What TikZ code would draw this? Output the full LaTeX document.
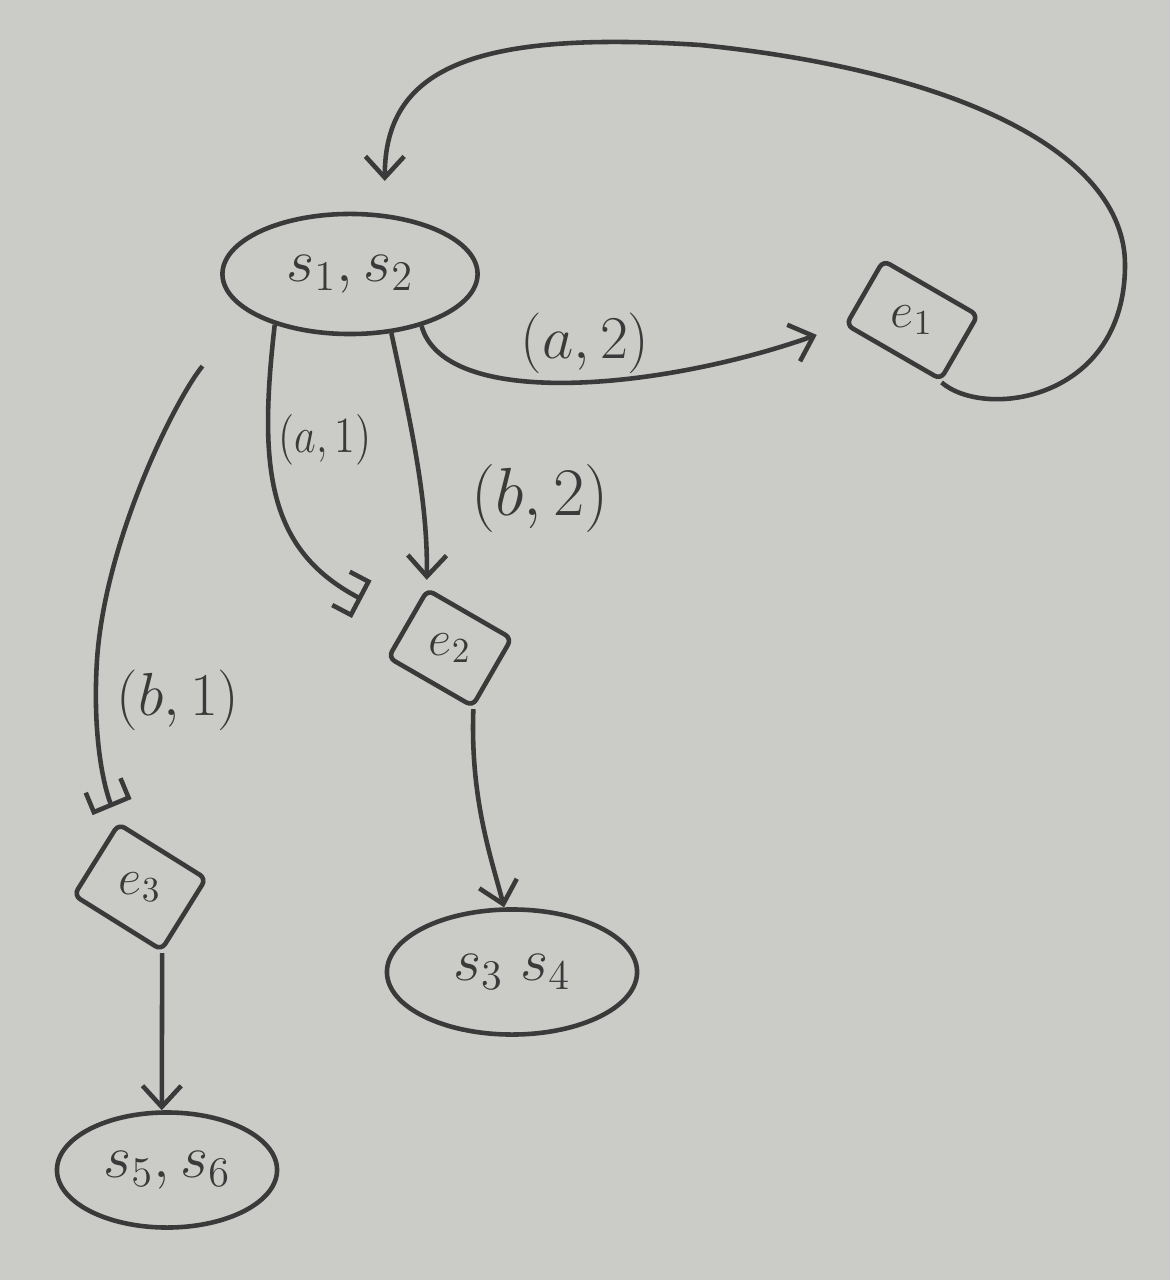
\documentclass[tikz,border=0pt]{standalone}
\usepackage{tikz}
\usetikzlibrary{arrows.meta}
\usetikzlibrary{shapes.geometric, arrows}
\definecolor{pencil}{RGB}{58,58,58}
\definecolor{paper}{RGB}{203,203,200}
\tikzstyle{state} = [ellipse, minimum width=2.5cm, minimum height=1.2cm, text centered, draw=pencil, line width=1.3pt, font=\LARGE, text=pencil]
\tikzstyle{event} = [rectangle, rounded corners=2pt, rotate=-30, inner sep=1pt, text centered, draw=pencil, line width=1.3pt, font=\Large, text=pencil]
\tikzstyle{tag} = [font=\LARGE, text=pencil]
\tikzstyle{arrow} = [pencil, line width=1.3pt, ->, >={Straight Barb[length=6pt, width=11pt]}]
\tikzstyle{hookarrow} = [pencil, line width=1.3pt, -{Bracket[length=6pt, width=12pt]}]
\begin{document}
\begin{tikzpicture}[x=0.01cm, y=-0.01cm]
        \fill [paper] (0,0) rectangle (1170,1280);
        \useasboundingbox (0,0) rectangle (1170,1280);
        \node (s12) [state, minimum width=2.55cm] at (350,274) {$s_1,s_2$};
        \node (e1) [event, minimum width=1.09cm, minimum height=0.74cm] at (912,320) {\rotatebox{30}{$e_{1}$}};
        \node (e2) [event, minimum width=0.97cm, minimum height=0.78cm] at (450,648) {\rotatebox{30}{$e_{2}$}};
        \node (e3) [event, rotate=-2, minimum width=1.03cm, minimum height=0.84cm] at (140,887) {\rotatebox{32}{$e_{3}$}};
        \node (s34) [state, minimum height=1.25cm] at (512,972) {$s_3\;s_4$};
        \node (s56) [state, minimum width=2.2cm, minimum height=1.15cm] at (167,1170) {$s_5,s_6$};
        \node (la2) [tag] at (585,343) {$(a,2)$};
        \node (la1) [tag, font=\large, yscale=1.2] at (325,440) {$(a,1)$};
        \node (lb2) [tag, scale=1.12] at (540,498) {$(b,2)$};
        \node (lb1) [tag] at (178,700) {$(b,1)$};
        \draw [arrow, shorten >=0.28cm] (s12.-36) .. controls (445,410) and (660,390) .. (e1.south west);
        \draw [arrow, shorten >=0.33cm] (e1.south east) .. controls (985,420) and (1125,400) .. (1125,265) .. controls (1125,150) and (950,70) .. (700,45) .. controls (470,30) and (385,70) .. (s12.60);
        \draw [arrow, shorten >=2pt] (s12.-55) .. controls (410,420) and (428,500) .. (e2.north west);
        \draw [hookarrow, shorten >=0.5cm] (s12.214) .. controls (258,470) and (268,550) .. (e2.west);
        \draw [hookarrow, shorten <=0.7cm, shorten >=0.15cm] (s12.200) .. controls (175,400) and (105,540) .. (97,660) .. controls (92,740) and (105,790) .. (e3.north west);
        \draw [arrow] (e2.south east) .. controls (470,800) and (492,860) .. (s34.97);
        \draw [arrow] (e3.south east) -- (s56.95);
    \end{tikzpicture}
\end{document}
